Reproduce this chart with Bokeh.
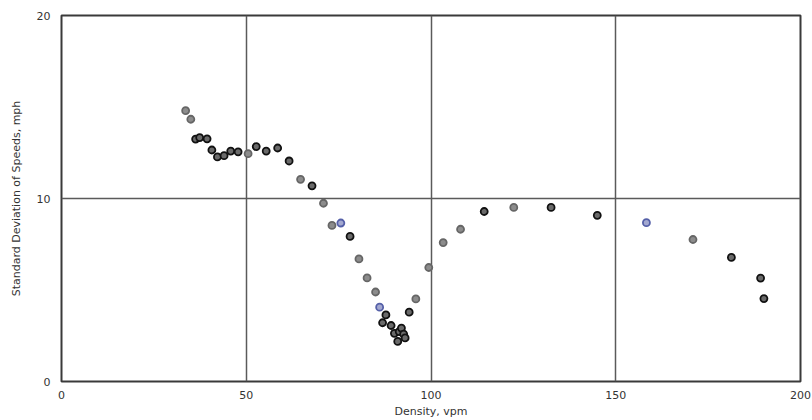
from bokeh.plotting import figure
from bokeh.models import Range1d, FixedTicker, ColumnDataSource
from bokeh.transform import factor_cmap
from bokeh.embed import file_html
from bokeh.resources import INLINE

density = [33.6, 35.0, 36.3, 37.4, 39.4, 40.7, 42.2, 44.0, 45.8, 47.8,
           50.5, 52.7, 55.4, 58.5, 61.6, 64.7, 67.8, 70.9, 73.2, 75.6,
           78.1, 80.5, 82.7, 85.0, 86.1, 87.8, 86.9, 89.2, 90.1, 91.4,
           92.0, 92.6, 93.0, 91.0, 94.1, 95.9, 99.4, 103.3, 108.0, 114.4,
           122.4, 132.5, 145.0, 158.3, 170.9, 181.3, 189.2, 190.1]
std_speed = [14.8, 14.33, 13.25, 13.33, 13.26, 12.65, 12.27, 12.34, 12.59, 12.55,
             12.45, 12.84, 12.59, 12.76, 12.05, 11.05, 10.69, 9.74, 8.53, 8.66,
             7.93, 6.70, 5.66, 4.89, 4.06, 3.64, 3.21, 3.06, 2.63, 2.73,
             2.92, 2.59, 2.38, 2.19, 3.79, 4.51, 6.23, 7.59, 8.32, 9.29,
             9.51, 9.51, 9.08, 8.68, 7.76, 6.78, 5.65, 4.53]
shade = ["mid", "mid", "dark", "dark", "dark", "dark", "dark", "dark", "dark", "dark",
         "mid", "dark", "dark", "dark", "dark", "mid", "dark", "mid", "mid", "blue",
         "dark", "mid", "mid", "mid", "blue", "dark", "dark", "dark", "dark", "dark",
         "dark", "dark", "dark", "dark", "dark", "mid", "mid", "mid", "mid", "dark",
         "mid", "dark", "dark", "blue", "mid", "dark", "dark", "dark"]

x_ticks = [0, 50, 100, 150, 200]
y_ticks = [0, 10, 20]

src = ColumnDataSource(dict(x=density, y=std_speed, shade=shade))

p = figure(width=812, height=420, output_backend="svg", toolbar_location=None,
           x_range=Range1d(0, 200), y_range=Range1d(0, 20),
           min_border_left=61, min_border_right=12, min_border_top=15,
           min_border_bottom=37, background_fill_color="white",
           border_fill_color="white")

p.outline_line_color = "#3a3a3a"
p.outline_line_width = 2

p.xaxis.ticker = FixedTicker(ticks=x_ticks)
p.yaxis.ticker = FixedTicker(ticks=y_ticks)
for ax in (p.xaxis[0], p.yaxis[0]):
    ax.axis_line_color = None
    ax.major_tick_line_color = None
    ax.minor_tick_line_color = None
    ax.major_label_text_font = "DejaVu Sans"
    ax.major_label_text_font_size = "11px"
    ax.major_label_text_color = "#333333"
    ax.major_label_standoff = 3
    ax.axis_label_text_font = "DejaVu Sans"
    ax.axis_label_text_font_size = "11px"
    ax.axis_label_text_font_style = "normal"
    ax.axis_label_text_color = "#333333"
    ax.axis_label_standoff = 3

p.xaxis.axis_label = "Density, vpm"
p.yaxis.axis_label = "Standard Deviation of Speeds, mph"
p.yaxis.major_label_standoff = 5
p.yaxis.axis_label_standoff = 11

p.xgrid.ticker = FixedTicker(ticks=[50, 100, 150])
p.ygrid.ticker = FixedTicker(ticks=[10])
p.grid.grid_line_color = "#5a5a5a"
p.grid.grid_line_width = 1.5

cmap_fill = factor_cmap("shade", palette=["#6a6a6a", "#8c8c8c", "#a3a8d0"],
                        factors=["dark", "mid", "blue"])
cmap_line = factor_cmap("shade", palette=["#111111", "#666666", "#5560a8"],
                        factors=["dark", "mid", "blue"])
p.scatter("x", "y", source=src, size=7, marker="circle",
          fill_color=cmap_fill, line_color=cmap_line, line_width=1.8)

open("out.html", "w").write(file_html(p, INLINE))
